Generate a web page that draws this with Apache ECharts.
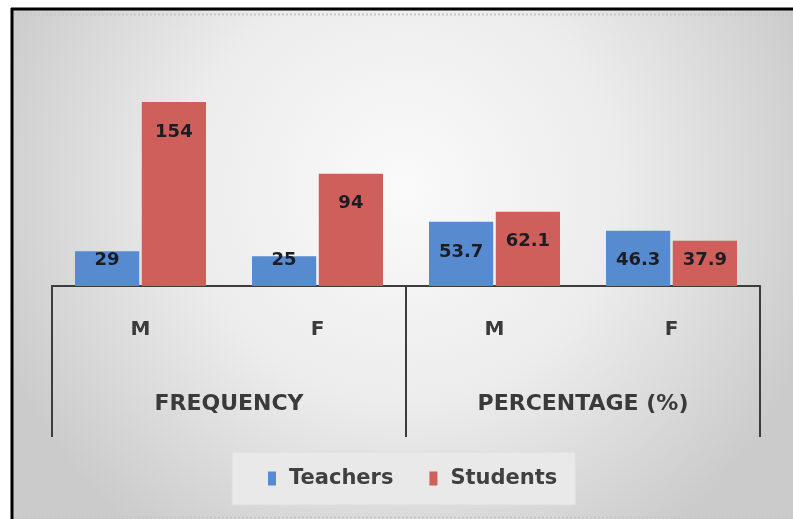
<!DOCTYPE html>
<html>
<head>
<meta charset="utf-8">
<script src="https://cdn.jsdelivr.net/npm/echarts@6/dist/echarts.min.js"></script>
<style>
  html, body { margin: 0; padding: 0; background: #ffffff; }
  #chart { width: 793px; height: 519px; }
</style>
</head>
<body>
<div id="chart"></div>
<script>
// Sub-categories (sex) and their parent groups
const sexLabels = ['M', 'F', 'M', 'F'];
const groupLabels = ['FREQUENCY', 'PERCENTAGE (%)'];

// Series values: frequency counts followed by percentages
const teachers = [29, 25, 53.7, 46.3];
const students = [154, 94, 62.1, 37.9];

const seriesNames = ['Teachers', 'Students'];
const seriesColors = ['#568bd0', '#cf5f5b'];

const FONT = 'DejaVu Sans';

// Value labels sit near the top of tall bars and near the base of short ones
const topLabel = { position: 'insideTop', distance: 21 };
const baseLabel = { position: 'insideBottom', distance: 17 };
function withLabels(values) {
  return values.map(v => ({ value: v, label: v < 50 ? baseLabel : topLabel }));
}

const chart = echarts.init(document.getElementById('chart'), null, { renderer: 'canvas' });

const barLabel = {
  show: true,
  fontFamily: FONT,
  fontSize: 18,
  fontWeight: 'bold',
  color: '#1c1c24'
};

chart.setOption({
  animation: false,
  backgroundColor: '#ffffff',
  graphic: [
    {
      type: 'rect', z: -10, silent: true,
      shape: { x: 13, y: 10, width: 780, height: 509 },
      style: {
        stroke: null,
        lineWidth: 0,
        fill: new echarts.graphic.RadialGradient(0.5, 0.35, 0.85, [
          { offset: 0, color: '#fafafa' },
          { offset: 0.5, color: '#ececec' },
          { offset: 1, color: '#cbcbcb' }
        ])
      }
    },
    { type: 'line', z: 5, silent: true, shape: { x1: 11, y1: 9, x2: 793, y2: 9 }, style: { stroke: '#000000', lineWidth: 3 } },
    { type: 'line', z: 5, silent: true, shape: { x1: 12, y1: 8, x2: 12, y2: 519 }, style: { stroke: '#000000', lineWidth: 3 } },
    { type: 'line', z: 5, silent: true, shape: { x1: 14, y1: 14.5, x2: 793, y2: 14.5 }, style: { stroke: '#c8c8c8', lineWidth: 2, lineDash: [2, 2] } },
    { type: 'line', z: 5, silent: true, shape: { x1: 14, y1: 517.5, x2: 793, y2: 517.5 }, style: { stroke: '#c8c8c8', lineWidth: 2, lineDash: [2, 2] } }
  ],
  legend: {
    data: seriesNames,
    left: 232,
    top: 452,
    padding: [16, 18, 16, 36],
    backgroundColor: '#e9e9e9',
    borderColor: '#dddddd',
    borderWidth: 1,
    itemWidth: 8,
    itemHeight: 14,
    itemGap: 36,
    icon: 'rect',
    textStyle: { fontFamily: FONT, fontSize: 21, fontWeight: 'bold', color: '#404040', padding: [0, 0, 0, 8] }
  },
  grid: { left: 52, right: 33, top: 71, bottom: 233, containLabel: false },
  xAxis: [
    {
      type: 'category',
      data: sexLabels,
      position: 'bottom',
      axisLine: { show: true, lineStyle: { color: '#3c3c3c', width: 2 } },
      axisTick: { show: false },
      axisLabel: { margin: 34, fontFamily: FONT, fontSize: 20, fontWeight: 'bold', color: '#3a3a3a' }
    },
    {
      type: 'category',
      data: groupLabels,
      position: 'bottom',
      offset: 0,
      axisLine: { show: true, lineStyle: { color: '#3c3c3c', width: 2 } },
      axisTick: { show: true, length: 151, lineStyle: { color: '#3c3c3c', width: 2 } },
      axisLabel: { margin: 107, fontFamily: FONT, fontSize: 22, fontWeight: 'bold', color: '#3a3a3a' }
    }
  ],
  yAxis: {
    type: 'value',
    min: 0,
    max: 180,
    show: false,
    splitLine: { show: false }
  },
  series: [
    {
      name: seriesNames[0],
      type: 'bar',
      xAxisIndex: 0,
      data: withLabels(teachers),
      itemStyle: { color: seriesColors[0] },
      barGap: '4%',
      barCategoryGap: '26%',
      label: barLabel
    },
    {
      name: seriesNames[1],
      type: 'bar',
      xAxisIndex: 0,
      data: withLabels(students),
      itemStyle: { color: seriesColors[1] },
      barGap: '4%',
      barCategoryGap: '26%',
      label: barLabel
    }
  ]
});
</script>
</body>
</html>
